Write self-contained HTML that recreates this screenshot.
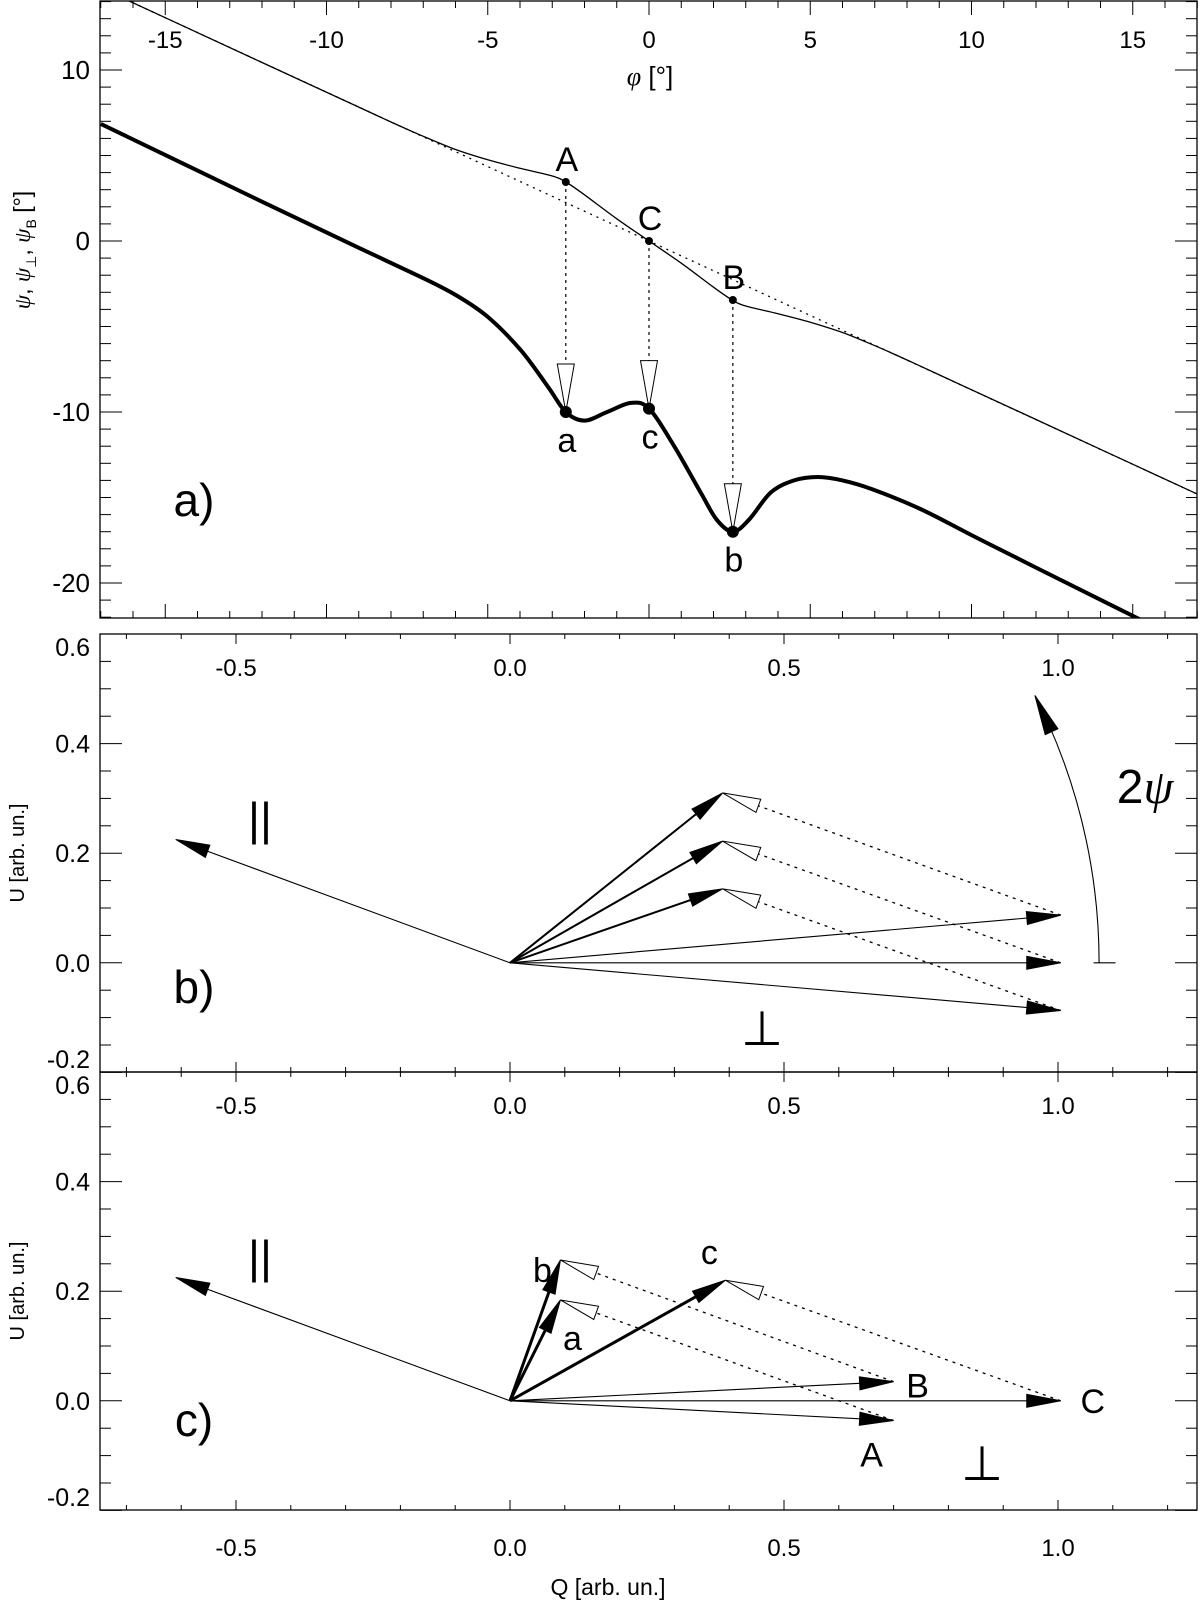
<!DOCTYPE html>
<html><head><meta charset="utf-8">
<style>
html,body{margin:0;padding:0;background:#fff;}
svg{display:block;font-family:"Liberation Sans",sans-serif;}
</style></head>
<body>
<svg id="fig" width="1200" height="1602" viewBox="0 0 1200 1602" xmlns="http://www.w3.org/2000/svg"></svg>
<script>
// ---------- Panel a data ----------
const phiTicks = [-15,-10,-5,0,5,10,15];
const psiTicks = [10,0,-10,-20];
const thinPhi = [-17,-12,-9,-8,-7,-6,-5,-4,-3,-2.58,-2,-1,0,1,2,2.58,3,4,5,6,7,8,9,12,17];
const thinPsi = [14.8,10.44,7.83,6.96,6.12,5.35,4.75,4.25,3.8,3.45,2.7,1.3,0,-1.3,-2.7,-3.45,-3.8,-4.25,-4.75,-5.35,-6.12,-6.96,-7.83,-10.44,-14.8];
const linePhi = [-17,17];
const linePsi = [14.8,-14.8];
const thickPhi = [-17,-12,-9,-7.08,-6,-5,-3.98,-3.14,-2.58,-2.0,-1.3,-0.56,0,0.78,1.6,2.1,2.6,3.1,3.78,4.5,5.24,6.0,6.9,8.45,10,12,17];
const thickPsi = [6.85,2.3,-0.4,-2.1,-3.15,-4.44,-6.37,-8.5,-10.0,-10.5,-10.0,-9.47,-9.8,-12.0,-14.7,-16.3,-17.0,-16.3,-14.7,-14.0,-13.8,-14.0,-14.5,-15.7,-17.2,-19.1,-23.8];
const upperNames = ['A','C','B'];
const upperPhi = [-2.58,0,2.6];
const upperPsi = [3.45,0,-3.45];
const lowerNames = ['a','c','b'];
const lowerPsi = [-10.0,-9.8,-17.0];

// ---------- Panel b data ----------
const qTicks = [-0.5,0.0,0.5,1.0];
const uTicks = [0.6,0.4,0.2,0.0,-0.2];
const bParQ = -0.61, bParU = 0.225;
const bMidQ = [0.388,0.388,0.388];
const bMidU = [0.31,0.222,0.135];
const bEndQ = [1.005,1.005,1.005];
const bEndU = [0.087,0.0,-0.087];
const arcR = 1.075, arcDeg = 27;

// ---------- Panel c data ----------
const cEndNames = ['A','B','C'];
const cEndQ = [0.70,0.70,1.005];
const cEndU = [-0.036,0.035,0.0];
const cMidNames = ['a','b','c'];
const cMidQ = [0.092,0.092,0.393];
const cMidU = [0.184,0.257,0.22];

const svg = document.getElementById('fig');
const NS = 'http://www.w3.org/2000/svg';
function el(tag, attrs, parent){
  const e = document.createElementNS(NS, tag);
  for (const k in attrs) e.setAttribute(k, attrs[k]);
  (parent||svg).appendChild(e);
  return e;
}
function txt(s, x, y, size, anchor, parent, extra){
  const t = el('text', Object.assign({x:x, y:y, 'font-size':size, 'text-anchor':anchor||'middle', fill:'#000'}, extra||{}), parent);
  t.textContent = s;
  return t;
}

// ---------- scales ----------
const L = 100, R = 1197;
const ax = {phi0:649, phiS:32.25, psi0:241, psiS:17.1, top:1, bot:618};
const X = p => ax.phi0 + p*ax.phiS;
const Y = v => ax.psi0 - v*ax.psiS;
const Q0 = 510, QS = 548;
const XQ = q => Q0 + q*QS;
const bTop = 634, bBot = 1072, cTop = 1072, cBot = 1510;
const YB = u => bTop + (0.6-u)*QS;
const YC = u => cTop + (0.6-u)*QS;

function smoothPath(px, py){
  let d = 'M'+px[0].toFixed(1)+','+py[0].toFixed(1);
  for (let i=0;i<px.length-1;i++){
    const x0=px[Math.max(0,i-1)], y0=py[Math.max(0,i-1)];
    const x1=px[i], y1=py[i], x2=px[i+1], y2=py[i+1];
    const x3=px[Math.min(px.length-1,i+2)], y3=py[Math.min(px.length-1,i+2)];
    const c1x=x1+(x2-x0)/6, c1y=y1+(y2-y0)/6, c2x=x2-(x3-x1)/6, c2y=y2-(y3-y1)/6;
    d += ' C'+c1x.toFixed(1)+','+c1y.toFixed(1)+' '+c2x.toFixed(1)+','+c2y.toFixed(1)+' '+x2.toFixed(1)+','+y2.toFixed(1);
  }
  return d;
}
function head(x0,y0,x1,y1,len,w,filled,parent){
  const dx=x1-x0, dy=y1-y0, n=Math.hypot(dx,dy), ux=dx/n, uy=dy/n;
  const bx=x1-ux*len, by=y1-uy*len;
  const pts=[[x1,y1],[bx-uy*w/2,by+ux*w/2],[bx+uy*w/2,by-ux*w/2]];
  return el('polygon',{points:pts.map(p=>p.join(',')).join(' '), fill: filled?'#000':'#fff', stroke:'#000','stroke-width':1}, parent);
}
function arrow(x0,y0,x1,y1,sw,dash,filled,parent,len,w){
  len=len||34; w=w||13;
  const dx=x1-x0, dy=y1-y0, n=Math.hypot(dx,dy);
  const ex = filled ? x1-dx/n*len*0.7 : x1-dx/n*len*0.9, ey = filled ? y1-dy/n*len*0.7 : y1-dy/n*len*0.9;
  el('line',{x1:x0,y1:y0,x2:ex,y2:ey,stroke:'#000','stroke-width':sw,'stroke-dasharray':dash||'none'},parent);
  head(x0,y0,x1,y1,len,w,filled,parent);
}

// ===== Panel a =====
const gA = el('g',{});


const clipA = el('clipPath',{id:'clipA'}); el('rect',{x:L,y:ax.top,width:R-L,height:ax.bot-ax.top},clipA);
el('rect',{x:L,y:ax.top,width:R-L,height:ax.bot-ax.top,fill:'none',stroke:'#000','stroke-width':1.3},gA);
for (let p=-17;p<=17;p++){
  const major = p%5===0, x=X(p);
  el('line',{x1:x,y1:ax.top,x2:x,y2:ax.top+(major?14:7),stroke:'#000','stroke-width':1},gA);
  el('line',{x1:x,y1:ax.bot,x2:x,y2:ax.bot-(major?14:7),stroke:'#000','stroke-width':1},gA);
}
for (let v=-22;v<=14;v++){
  const major = v%10===0, y=Y(v);
  el('line',{x1:L,y1:y,x2:L+(major?22:11),y2:y,stroke:'#000','stroke-width':1},gA);
  el('line',{x1:R,y1:y,x2:R-(major?22:11),y2:y,stroke:'#000','stroke-width':1},gA);
}
phiTicks.forEach(p=>{ const t=txt(String(p),X(p),48,24,'middle',gA);
    });
psiTicks.forEach(v=>{ const t=txt(String(v),90,Y(v)+9,26,'end',gA);
    });
const phiTitle = txt('',650,85,26,'middle',gA);


phiTitle.innerHTML = '<tspan font-family="Liberation Serif" font-style="italic">φ</tspan> [°]';
const yTitleA = el('text',{x:0,y:0,'font-size':23,'text-anchor':'middle',transform:'translate(30,250) rotate(-90)'},gA);


yTitleA.innerHTML = '<tspan font-family="Liberation Serif" font-style="italic">ψ</tspan>, <tspan font-family="Liberation Serif" font-style="italic">ψ</tspan><tspan font-size="14" dy="6">⊥</tspan><tspan dy="-6">, </tspan><tspan font-family="Liberation Serif" font-style="italic">ψ</tspan><tspan font-size="14" dy="6">B</tspan><tspan dy="-6"> [°]</tspan>';
const gCurves = el('g',{'clip-path':'url(#clipA)'},gA);
const ln = el('path',{d:'M'+X(linePhi[0])+','+Y(linePsi[0])+' L'+X(linePhi[1])+','+Y(linePsi[1]),fill:'none',stroke:'#000','stroke-width':1.3,'stroke-dasharray':'2,5'},gCurves);


const thin = el('path',{d:smoothPath(thinPhi.map(X),thinPsi.map(Y)),fill:'none',stroke:'#000','stroke-width':1.3},gCurves);


const thick = el('path',{d:smoothPath(thickPhi.map(X),thickPsi.map(Y)),fill:'none',stroke:'#000','stroke-width':4},gCurves);


upperPhi.forEach((p,i)=>{
  const x=X(p), y0=Y(upperPsi[i]), y1=Y(lowerPsi[i]);
  const g = el('g',{},gA);
  
  
  el('line',{x1:x,y1:y0,x2:x,y2:y1-46,stroke:'#000','stroke-width':1.2,'stroke-dasharray':'3,4'},g);
  head(x,y0,x,y1,48,17,false,g);
  el('circle',{cx:x,cy:y0,r:4,fill:'#000'},g);
  el('circle',{cx:x,cy:y1,r:6,fill:'#000'},g);
  txt(upperNames[i],x+1,y0-11,34,'middle',g);
  txt(lowerNames[i],x+1,y1+40,34,'middle',g);
});
const la = txt('a)',194,516,46,'middle',gA);



// ===== Panels b/c axes =====
function qPanel(top,bot,YF,name){
  const g = el('g',{});
  
  
  el('rect',{x:L,y:top,width:R-L,height:bot-top,fill:'none',stroke:'#000','stroke-width':1.3},g);
  for (let k=-7;k<=12;k++){
    const q=k/10, x=XQ(q), major = k%5===0;
    el('line',{x1:x,y1:top,x2:x,y2:top+(major?10:5),stroke:'#000','stroke-width':1},g);
    el('line',{x1:x,y1:bot,x2:x,y2:bot-(major?10:5),stroke:'#000','stroke-width':1},g);
  }
  for (let k=-4;k<=12;k++){
    const u=k/20, y=YF(u), major = k%4===0;
    el('line',{x1:L,y1:y,x2:L+(major?22:11),y2:y,stroke:'#000','stroke-width':1},g);
    el('line',{x1:R,y1:y,x2:R-(major?22:11),y2:y,stroke:'#000','stroke-width':1},g);
  }
  qTicks.forEach(q=>{ const t=txt(q.toFixed(1),XQ(q),top+42,24,'middle',g);
      });
  uTicks.forEach(u=>{ let y=YF(u)+9; if(u===0.6) y=top+22; if(u===-0.2) y=bot-4;
    const t=txt(u.toFixed(1),90,y,25,'end',g);
      });
  const yt = txt('U [arb. un.]',0,0,20,'middle',g,{transform:'translate(24,'+((top+bot)/2)+') rotate(-90)'});
  
  
  return g;
}
// Panel b
const gB = qPanel(bTop,bBot,YB,'panel-b');
(function(){
  const ox=XQ(0), oy=YB(0);
  const p = el('g',{},gB);  
  arrow(ox,oy,XQ(bParQ),YB(bParU),1.1,null,true,p);
  bEndQ.forEach((q,i)=>{
    const g = el('g',{},gB);
    
    
    arrow(ox,oy,XQ(q),YB(bEndU[i]),1.1,null,true,g);
    arrow(ox,oy,XQ(bMidQ[i]),YB(bMidU[i]),2,null,true,g);
    arrow(XQ(q),YB(bEndU[i]),XQ(bMidQ[i]),YB(bMidU[i]),1.3,'3,5',false,g,38,14);
  });
  const a = el('g',{},gB);  
  el('line',{x1:XQ(arcR-0.01),y1:oy,x2:XQ(arcR+0.03),y2:oy,stroke:'#000','stroke-width':1.1},a);
  const th=arcDeg*Math.PI/180, r=arcR*QS;
  const ex=ox+r*Math.cos(th), ey=oy-r*Math.sin(th);
  const th2=(arcDeg-3)*Math.PI/180;
  el('path',{d:'M'+(ox+r)+','+oy+' A'+r+','+r+' 0 0 0 '+(ox+r*Math.cos(th2)).toFixed(1)+','+(oy-r*Math.sin(th2)).toFixed(1),fill:'none',stroke:'#000','stroke-width':1.1},a);
  head(ox+r*Math.cos(th2-0.03),oy-r*Math.sin(th2-0.03),ex,ey,40,14,true,a);
  const t=txt('',1145,803,48,'middle',a);
  t.innerHTML='2<tspan font-family="Liberation Serif" font-style="italic">ψ</tspan>';
  const s1=txt('||',260,835,46,'middle',gB);  
  const s2=txt('⊥',762,1045,48,'middle',gB);  
  const lb=txt('b)',194,1003,46,'middle',gB);  
})();
// Panel c
const gC = qPanel(cTop,cBot,YC,'panel-c');
(function(){
  const ox=XQ(0), oy=YC(0);
  const p = el('g',{},gC);  
  arrow(ox,oy,XQ(bParQ),YC(bParU),1.1,null,true,p);
  const endOff=[[-22,46],[24,16],[32,12]];
  const midOff=[[12,50],[-18,22],[-16,-16]];
  cEndQ.forEach((q,i)=>{
    const g = el('g',{},gC);
    
    
    arrow(ox,oy,XQ(q),YC(cEndU[i]),1.1,null,true,g);
    txt(cEndNames[i],XQ(q)+endOff[i][0],YC(cEndU[i])+endOff[i][1],34,'middle',g);
  });
  cMidQ.forEach((q,i)=>{
    const g = el('g',{},gC);
    
    
    arrow(ox,oy,XQ(q),YC(cMidU[i]),3,null,true,g);
    txt(cMidNames[i],XQ(q)+midOff[i][0],YC(cMidU[i])+midOff[i][1],34,'middle',g);
  });
  [[0,0],[1,1],[2,2]].forEach(([e,m])=>{
    const g = el('g',{},gC);
    
    
    arrow(XQ(cEndQ[e]),YC(cEndU[e]),XQ(cMidQ[m]),YC(cMidU[m]),1.3,'3,5',false,g,38,14);
  });
  const s1=txt('||',260,1273,46,'middle',gC);  
  const s2=txt('⊥',982,1480,48,'middle',gC);  
  const lc=txt('c)',194,1436,46,'middle',gC);  
  qTicks.forEach(q=>{ const t=txt(q.toFixed(1),XQ(q),1556,24,'middle',gC);
      });
  const xt=txt('Q [arb. un.]',608,1595,23,'middle',gC);
  
  
})();
</script>
</body></html>
